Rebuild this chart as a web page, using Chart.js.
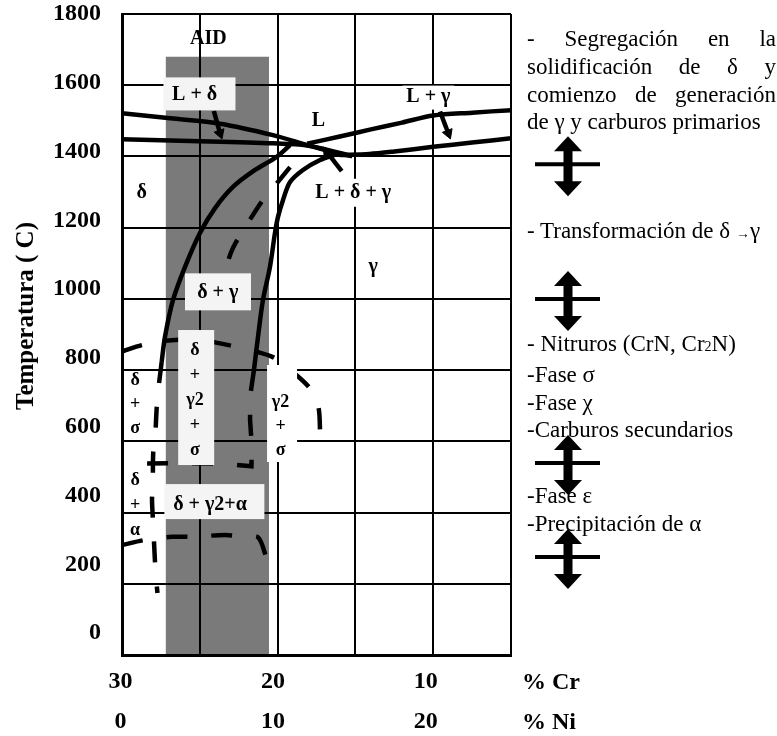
<!DOCTYPE html>
<html lang="es">
<head>
<meta charset="utf-8">
<title>Diagrama Fe-Cr-Ni</title>
<script src="https://cdn.jsdelivr.net/npm/chart.js@4.4.1/dist/chart.umd.min.js"></script>
<style>
  html, body { margin: 0; padding: 0; background: #fff; }
  #wrap { position: relative; width: 777px; height: 736px; overflow: hidden; }
  #chart { position: absolute; left: 0; top: 0; }
  .serif { position: absolute; font-family: "Liberation Serif", "Times New Roman", serif; color: #000; }
  .note { font-size: 23px; line-height: 27.8px; white-space: nowrap; }
  .just { width: 249px; text-align: justify; text-align-last: justify; white-space: normal; }
  .axis-name { font-size: 24px; font-weight: bold; line-height: 40px; white-space: nowrap; }
  .ytitle { font-size: 25px; font-weight: bold; width: 260px; height: 30px; line-height: 30px;
            text-align: center; white-space: nowrap; transform: rotate(-90deg); }
  .small { font-size: 14px; }
</style>
</head>
<body>
<div id="wrap">
  <canvas id="chart" width="777" height="736"></canvas>

  <div class="serif ytitle" style="left:-105px;top:301px;">Temperatura ( C)</div>
  <div class="serif axis-name" style="left:522px;top:661px;">% Cr<br>% Ni</div>

  <div class="serif note" style="left:527px;top:25px;">
    <div class="just">- Segregación en la</div>
    <div class="just">solidificación de δ y</div>
    <div class="just">comienzo de generación</div>
    <div>de γ y carburos primarios</div>
  </div>
  <div class="serif note" style="left:527px;top:217px;">- Transformación de δ <span class="small">→</span>γ</div>
  <div class="serif note" style="left:527px;top:330px;">
    <div>- Nitruros (CrN, Cr<span class="small">2</span>N)</div>
    <div>-Fase σ</div>
    <div>-Fase χ</div>
    <div>-Carburos secundarios</div>
  </div>
  <div class="serif note" style="left:527px;top:482px;">
    <div>-Fase ε</div>
    <div>-Precipitación de α</div>
  </div>
</div>

<script>
// Axis ticks: temperature (°C) and the paired composition scales (% Cr / % Ni)
const tempTicks = [0, 200, 400, 600, 800, 1000, 1200, 1400, 1600, 1800];
const crTicks = [30, 20, 10];
const niTicks = [0, 10, 20];

// Duplex stainless steel (AID) composition window
const aidCr = [27.2, 20.55];
const aidTop = 1680;

// Liquidus and solidus lines
const deltaLiquidusCr = [30, 26.9, 23.7, 20.3, 18.1, 16.2, 15.2];
const deltaLiquidusT  = [1521, 1507, 1492, 1460, 1432, 1409, 1401];
const deltaSolidusCr  = [30, 25, 20.3, 18.1, 16.2, 15.2];
const deltaSolidusT   = [1448, 1443, 1437, 1431, 1412, 1401];
const gammaLiquidusCr = [5, 7.5, 10, 12, 14, 16, 18.1];
const gammaLiquidusT  = [1530, 1523, 1515, 1495, 1476, 1456, 1436];
const gammaSolidusCr  = [5, 7.5, 10, 12.5, 14.1, 16.0];
const gammaSolidusT   = [1451, 1439, 1427, 1414, 1407, 1404];

// delta / delta+gamma and delta+gamma / gamma boundaries
const deltaSolvusCr = [19.2, 20.06, 21.45, 22.85, 24.02, 24.99, 25.95, 26.72, 27.24, 27.45];
const deltaSolvusT  = [1432, 1399, 1362, 1315, 1255, 1185, 1090, 997, 893, 823];
const gammaSolvusCr = [16.3, 17.27, 18.37, 19.2, 19.65, 19.97, 20.17, 20.49, 20.94, 21.26, 21.52];
const gammaSolvusT  = [1405, 1390, 1362, 1328, 1278, 1231, 1185, 1090, 997, 893, 800];

// Dashed boundaries (low temperature range)
const deltaSolvusLowCr = [27.45, 27.67, 27.77, 27.88, 27.99, 28.02, 28.07, 28.0, 27.95, 27.83, 27.72];
const deltaSolvusLowT  = [823, 744, 694, 604, 571, 500, 435, 371, 323, 225, 174];
const gamma2SolvusCr = [21.52, 21.77, 21.77, 21.66, 21.68, 23.4, 26.0, 28.5, 30];
const gamma2SolvusT  = [800, 725, 660, 590, 530, 537, 539, 538, 533];
const sigmaSolvusCr = [30, 28.73, 27.24, 25.95, 24.8, 23.7, 22.2, 20.38, 19.31, 17.92, 17.38, 17.27, 17.25];
const sigmaSolvusT  = [852, 870, 882, 886, 884, 875, 861, 838, 805, 749, 697, 623, 571];
const alphaSolvusCr = [30, 28.52, 26.8, 25.4, 23.38, 22.1, 21.24, 20.7];
const alphaSolvusT  = [309, 323, 332, 332, 337, 332, 330, 270];
const midDashCr = [19.2, 20.04, 20.81, 21.58, 22.87, 23.38, 23.83];
const midDashT  = [1370, 1325, 1286, 1236, 1143, 1076, 997];

// Callout pointers for L+δ, L+γ and L+δ+γ
const lDeltaPtrCr = [24.1, 23.7],   lDeltaPtrT = [1528, 1465];
const lGammaPtrCr = [9.56, 9.03],   lGammaPtrT = [1526, 1465];
const lDgPtrCr    = [15.88, 16.84], lDgPtrT    = [1359, 1413];

// Temperatures marked by the range arrows beside the notes
const rangeArrowTemps = [1378, 1000, 539, 275];

// Phase field labels
const phaseLabels = [
  { text: 'AID', cr: 24.45, t: 1729, size: 20 },
  { text: 'L + δ', cr: 25.33, t: 1572, size: 20, box: [72, 33, 4.8, -1.3] },
  { text: 'L', cr: 17.38, t: 1500, size: 20 },
  { text: 'L + γ', cr: 10.31, t: 1568, size: 20, box: [52, 24, 0, 1], fill: '#fff' },
  { text: 'δ', cr: 28.73, t: 1298, size: 20 },
  { text: 'L + δ + γ', cr: 15.14, t: 1298, size: 20, box: [92, 28, 0, 0], fill: '#fff' },
  { text: 'γ', cr: 13.85, t: 1090, size: 20 },
  { text: 'δ + γ', cr: 23.85, t: 1017, size: 20, box: [66, 37, 0.3, -1] },
  { text: 'δ\n+\nγ2\n+\nσ', cr: 25.31, t: 716, size: 18, step: 25, box: [36, 135, 1.2, -2.5] },
  { text: 'δ\n+\nσ', cr: 29.16, t: 704, size: 18, step: 24 },
  { text: 'δ\n+\nα', cr: 29.16, t: 420, size: 18, step: 25 },
  { text: 'δ + γ2+α', cr: 24.34, t: 421, size: 20, box: [100, 35, 4.3, -3.5] },
  { text: 'γ2\n+\nσ', cr: 19.81, t: 643, size: 18, step: 24, box: [30, 97, 1.5, -12.5], fill: '#fff' }
];

const serif = '"Liberation Serif", "Times New Roman", serif';
const zip = (cr, t) => cr.map((c, i) => ({ x: c, y: t[i] }));

function solid(label, cr, t, tension = 0.3) {
  return {
    label, data: zip(cr, t), showLine: true, fill: false, order: 0,
    borderColor: '#000', borderWidth: 4.5, borderCapStyle: 'butt',
    pointRadius: 0, tension, xAxisID: 'x', yAxisID: 'y'
  };
}
function dashed(label, cr, t, tension = 0.3) {
  return Object.assign(solid(label, cr, t, tension), { borderDash: [21, 24] });
}
function pointer(label, cr, t, angle) {
  return Object.assign(solid(label, cr, t, 0), {
    pointRadius: [0, 6], pointStyle: 'triangle', pointRotation: [0, angle],
    pointBackgroundColor: '#000', pointBorderColor: '#000', pointBorderWidth: 1
  });
}

const datasets = [
  {
    // drawn underneath everything else (highest order is painted first)
    label: 'AID', data: zip(aidCr, [aidTop, aidTop]), showLine: true, order: 1,
    borderWidth: 0, pointRadius: 0, fill: 'origin', backgroundColor: '#7a7a7a',
    xAxisID: 'x', yAxisID: 'y'
  },
  solid('Liquidus δ', deltaLiquidusCr, deltaLiquidusT),
  solid('Solidus δ', deltaSolidusCr, deltaSolidusT),
  solid('Liquidus γ', gammaLiquidusCr, gammaLiquidusT),
  solid('Solidus γ', gammaSolidusCr, gammaSolidusT),
  solid('δ / δ+γ', deltaSolvusCr, deltaSolvusT),
  solid('δ+γ / γ', gammaSolvusCr, gammaSolvusT),
  dashed('δ / δ+γ (baja T)', deltaSolvusLowCr, deltaSolvusLowT),
  dashed('γ2', gamma2SolvusCr, gamma2SolvusT, 0),
  dashed('σ', sigmaSolvusCr, sigmaSolvusT),
  dashed('α', alphaSolvusCr, alphaSolvusT),
  dashed('δ+γ intermedia', midDashCr, midDashT),
  pointer('L + δ', lDeltaPtrCr, lDeltaPtrT, 161),
  pointer('L + γ', lGammaPtrCr, lGammaPtrT, 159),
  pointer('L + δ + γ', lDgPtrCr, lDgPtrT, -35)
];

// Phase labels, drawn over the grid with their backing boxes
const phaseLabelPlugin = {
  id: 'phaseLabels',
  afterDraw(chart) {
    const { ctx } = chart;
    const xs = chart.scales.x, ys = chart.scales.y;
    ctx.save();
    for (const lab of phaseLabels) {
      const px = xs.getPixelForValue(lab.cr);
      const py = ys.getPixelForValue(lab.t);
      if (lab.box) {
        const [w, h, dx, dy] = lab.box;
        ctx.fillStyle = lab.fill || '#f4f4f4';
        ctx.fillRect(px + dx - w / 2, py + dy - h / 2, w, h);
      }
      ctx.fillStyle = '#000';
      ctx.font = `bold ${lab.size}px ${serif}`;
      ctx.textAlign = 'center';
      ctx.textBaseline = 'middle';
      const lines = lab.text.split('\n');
      lines.forEach((s, i) => ctx.fillText(s, px, py + (i - (lines.length - 1) / 2) * (lab.step || 0)));
    }
    ctx.restore();
  }
};

// Double-headed arrows with a crossbar at each marked temperature
const rangeArrowPlugin = {
  id: 'rangeArrows',
  afterDraw(chart) {
    const { ctx, chartArea } = chart;
    const ys = chart.scales.y;
    const cx = chartArea.right + 57;
    ctx.save();
    ctx.fillStyle = '#000';
    ctx.strokeStyle = '#000';
    for (const t of rangeArrowTemps) {
      const y = ys.getPixelForValue(t);
      ctx.lineWidth = 4;
      ctx.beginPath();
      ctx.moveTo(chartArea.right + 24, y);
      ctx.lineTo(chartArea.right + 89, y);
      ctx.stroke();
      const top = y - 28, bot = y + 32, head = 15, hw = 14;
      ctx.fillRect(cx - 4.5, top + head - 1, 9, bot - top - 2 * head + 2);
      ctx.beginPath();
      ctx.moveTo(cx, top); ctx.lineTo(cx + hw, top + head); ctx.lineTo(cx - hw, top + head);
      ctx.closePath(); ctx.fill();
      ctx.beginPath();
      ctx.moveTo(cx, bot); ctx.lineTo(cx + hw, bot - head); ctx.lineTo(cx - hw, bot - head);
      ctx.closePath(); ctx.fill();
    }
    ctx.restore();
  }
};

// Grid lines sit above the shaded band; label boxes are painted over them afterwards
const gridStyle = { color: '#000', lineWidth: 2, drawTicks: false, z: 1 };
const frameStyle = { display: true, color: '#000', width: 3, z: 1 };
const noPadding = (a) => { a.paddingTop = 0; a.paddingBottom = 0; a.paddingLeft = 0; a.paddingRight = 0; };

new Chart(document.getElementById('chart'), {
  type: 'line',
  data: { datasets },
  options: {
    responsive: false,
    animation: false,
    events: [],
    layout: { padding: { top: 14, right: 266, bottom: 0, left: 0 } },
    plugins: { legend: { display: false }, tooltip: { enabled: false } },
    scales: {
      x: {
        type: 'linear', position: 'bottom', min: 5, max: 30, reverse: true, weight: 0,
        ticks: { display: false, stepSize: 5 },
        grid: gridStyle,
        border: frameStyle,
        afterFit: (a) => { a.height = 0; noPadding(a); }
      },
      xl: {
        type: 'linear', axis: 'x', position: 'bottom', min: 4.415, max: 29.9, reverse: true, weight: 1,
        grid: { display: false, drawTicks: false },
        border: { display: false },
        afterBuildTicks: (a) => { a.ticks = crTicks.map(v => ({ value: v })); },
        ticks: {
          color: '#000', padding: 7, autoSkip: false, maxRotation: 0, minRotation: 0,
          font: { family: serif, size: 24, weight: 'bold', lineHeight: '40px' },
          callback: (v, i) => [String(crTicks[i]), String(niTicks[i])]
        },
        afterFit: (a) => { a.height = 81; noPadding(a); }
      },
      y: {
        type: 'linear', position: 'left', min: 0, max: 1800, weight: 0,
        ticks: { display: false, stepSize: 200 },
        grid: gridStyle,
        border: frameStyle,
        afterFit: (a) => { a.width = 0; noPadding(a); }
      },
      yl: {
        type: 'linear', axis: 'y', position: 'left', min: -63.4, max: 1800, weight: 1,
        grid: { display: false, drawTicks: false },
        border: { display: false },
        afterBuildTicks: (a) => { a.ticks = tempTicks.map(v => ({ value: v })); },
        ticks: {
          color: '#000', padding: 21,
          font: { family: serif, size: 24, weight: 'bold', lineHeight: 1 },
          callback: (v) => String(v)
        },
        afterFit: (a) => { a.width = 122; noPadding(a); }
      }
    }
  },
  plugins: [phaseLabelPlugin, rangeArrowPlugin]
});
</script>
</body>
</html>
